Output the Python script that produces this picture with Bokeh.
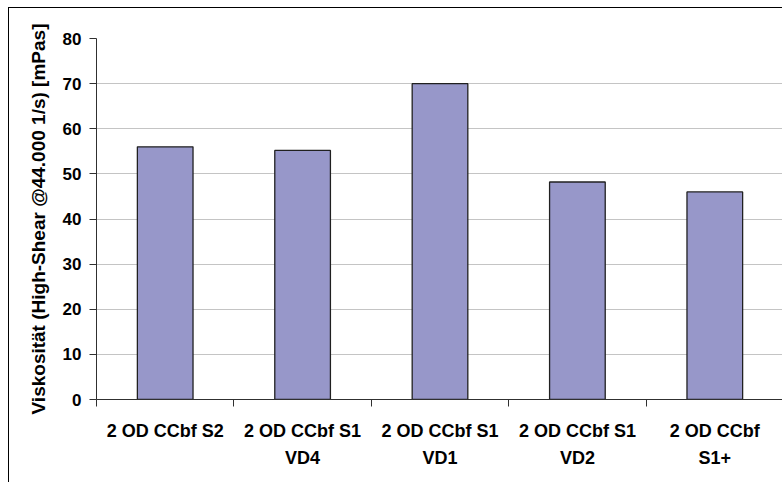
from bokeh.plotting import figure
from bokeh.models import FixedTicker, LinearAxis, Range1d
from bokeh.embed import file_html
from bokeh.resources import INLINE

categories = ["2 OD CCbf S2", "2 OD CCbf S1\nVD4", "2 OD CCbf S1\nVD1", "2 OD CCbf S1\nVD2", "2 OD CCbf\nS1+"]
values = [56.0, 55.2, 70.0, 48.2, 46.0]
y_ticks = [0, 10, 20, 30, 40, 50, 60, 70, 80]

xs = [i + 0.5 for i in range(len(categories))]
bounds = list(range(len(categories) + 1))

p = figure(width=774, height=475, output_backend="svg", toolbar_location=None,
           x_range=Range1d(0, len(categories)), y_range=Range1d(0, 80),
           min_border_left=87, min_border_top=30, min_border_right=0, min_border_bottom=84,
           x_axis_type=None)
p.styles = {"margin-left": "8px", "margin-top": "7px",
            "border-left": "1px solid black", "border-top": "1px solid black",
            "box-sizing": "border-box"}
p.outline_line_color = None
p.background_fill_color = "white"

p.vbar(x=xs, top=values, width=0.405, bottom=0, fill_color="#9797C9",
       line_color="#202020", line_width=1.3)

# y axis
ya = p.yaxis[0]
ya.ticker = FixedTicker(ticks=y_ticks)
ya.axis_label = "Viskosität (High-Shear @44.000 1/s) [mPas]"
ya.axis_label_text_font = "Liberation Sans"
ya.axis_label_text_font_style = "bold"
ya.axis_label_text_font_size = "19px"
ya.axis_label_standoff = 11
ya.major_label_text_font = "Liberation Sans"
ya.major_label_text_font_style = "bold"
ya.major_label_text_font_size = "17px"
ya.major_label_standoff = 8
ya.major_tick_out = 7
ya.major_tick_in = 0
ya.minor_tick_line_color = None
ya.axis_line_color = "#303030"
ya.major_tick_line_color = "#303030"
ya.major_label_text_color = "black"
ya.axis_label_text_color = "black"

p.ygrid.ticker = FixedTicker(ticks=y_ticks)
p.ygrid.grid_line_color = "#C4C4C4"
p.ygrid.grid_line_width = 1
p.xgrid.grid_line_color = None

# x axis with boundary ticks
xa = LinearAxis(ticker=FixedTicker(ticks=bounds))
xa.major_label_overrides = {b: "" for b in bounds}
xa.major_label_standoff = 0
xa.major_tick_out = 7
xa.major_tick_in = 0
xa.minor_tick_line_color = None
xa.axis_line_color = "#303030"
xa.major_tick_line_color = "#303030"
p.add_layout(xa, "below")

# label axis
la = LinearAxis(ticker=FixedTicker(ticks=xs))
la.major_label_overrides = {x: c for x, c in zip(xs, categories)}
la.major_label_text_font = "Liberation Sans"
la.major_label_text_font_style = "bold"
la.major_label_text_font_size = "18px"
la.major_label_text_color = "black"
la.major_label_text_line_height = 1.35
la.major_label_standoff = 8
la.major_tick_line_color = None
la.minor_tick_line_color = None
la.axis_line_color = None
p.add_layout(la, "below")

open("out.html", "w").write(file_html(p, INLINE))
